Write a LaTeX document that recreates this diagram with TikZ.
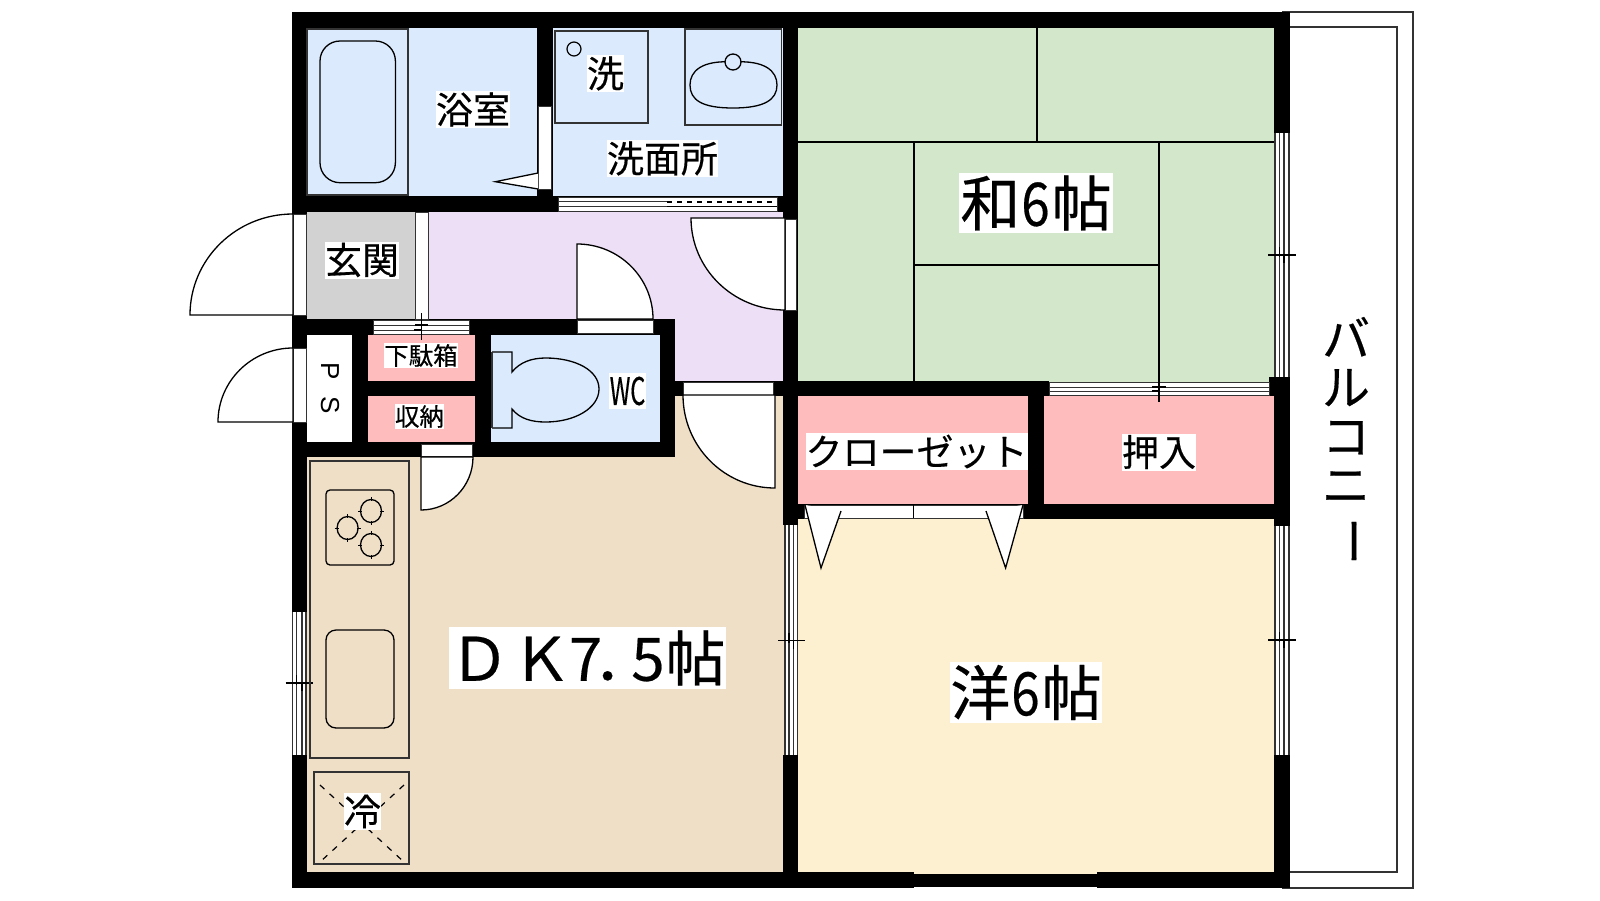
\documentclass[tikz,border=0pt]{standalone}
\usepackage{fontspec}
\newfontfamily\jp[FakeBold=0.35]{Noto Sans CJK JP}
\newfontfamily\lat{Liberation Sans}
\newcommand{\fs}[1]{\fontsize{#1}{#1}\selectfont}
\definecolor{cblue}{HTML}{DBEBFD}
\definecolor{cgreen}{HTML}{D3E8CB}
\definecolor{cpurple}{HTML}{EDDFF5}
\definecolor{ctan}{HTML}{EEDFC6}
\definecolor{ccream}{HTML}{FDF0D0}
\definecolor{cpink}{HTML}{FEBCBC}
\definecolor{cgray}{HTML}{D2D2D2}
\definecolor{cline}{HTML}{333333}
\tikzset{
  thin line/.style={line width=1.2pt,draw=black},
  fix line/.style={line width=1.2pt,draw=cline},
  opening/.style={line width=1pt,draw=cline,fill=white},
  lab/.style={fill=white,inner sep=0pt,outer sep=0pt,font=\jp,text=black},
}
% filled room / wall rectangle
\newcommand{\blk}[4]{\fill[black] (#1,#2) rectangle (#3,#4);}
\newcommand{\room}[5]{\fill[#1] (#2,#3) rectangle (#4,#5);}
% door: centre, free end of leaf, other end of arc
\newcommand{\doorleaf}[6]{\draw[thin line,line width=1.3pt,fill=white] (#3,#4) .. controls ({#3+.5523*(#5-#1)},{#4+.5523*(#6-#2)}) and ({#5+.5523*(#3-#1)},{#6+.5523*(#4-#2)}) .. (#5,#6) -- (#1,#2) -- cycle;}
% vertical window x1..x4 lines
\newcommand{\vwin}[7]{\fill[white] (#1,#5) rectangle (#4,#6);
  \foreach \q in {#1,#2,#3,#4}{\draw[line width=1.1pt,draw=cline] (\q,#5) -- (\q,#6);}
  \draw[thin line] ({#1-7},#7) -- ({#4+7},#7);
  \draw[thin line] (#2,{#7-8}) -- (#2,{#7+2});
  \draw[thin line] (#3,{#7}) -- (#3,{#7+8});}
\newcommand{\burner}[2]{\draw[line width=1.3pt] (#1,#2) ellipse [x radius=10.5,y radius=11.5];
  \draw[line width=1pt] ({#1-13},#2) -- ({#1-9},#2) ({#1+9},#2) -- ({#1+13},#2) (#1,{#2-14}) -- (#1,{#2-10}) (#1,{#2+10}) -- (#1,{#2+14});}
\begin{document}
\begin{tikzpicture}[x=1pt,y=-1pt]
\useasboundingbox (0,0) rectangle (1600,900);
\fill[white] (0,0) rectangle (1600,900);
% rooms
\room{cblue}{300}{24}{540}{200}
\room{cblue}{550}{24}{790}{200}
\room{cgreen}{790}{24}{1280}{385}
\room{cgray}{300}{208}{418}{325}
\room{cpurple}{425}{208}{790}{385}
\room{cblue}{485}{330}{665}{446}
\room{cpink}{360}{330}{480}{385}
\room{cpink}{360}{390}{480}{446}
\room{white}{300}{330}{356}{446}
\room{ctan}{300}{450}{790}{880}
\room{ctan}{665}{390}{790}{460}
\room{cpink}{790}{390}{1032}{508}
\room{cpink}{1040}{390}{1280}{508}
\room{ccream}{790}{515}{1280}{880}
% balcony
\draw[line width=1.2pt,draw=cline] (1282,12) -- (1413,12) -- (1413,888) -- (1282,888);
\draw[line width=1.2pt,draw=cline] (1290,27) -- (1397,27) -- (1397,872) -- (1290,872);
% tatami
\draw[fix line,draw=black] (1037,28) -- (1037,142);
\draw[fix line,draw=black] (797,142) -- (1274,142);
\draw[fix line,draw=black] (914,142) -- (914,381);
\draw[fix line,draw=black] (914,265) -- (1159,265);
\draw[fix line,draw=black] (1159,142) -- (1159,381);
% walls
\blk{291.5}{12}{1290}{28}
\blk{291.5}{12}{306.5}{612}
\blk{291.5}{755}{306.5}{888}
\blk{291.5}{872}{914}{888}
\blk{914}{874}{1097}{887}
\blk{1097}{872}{1290}{888}
\blk{1274}{12}{1290}{133}
\blk{1274}{755}{1290}{888}
\blk{1269}{377}{1290}{396}
\blk{1274}{377}{1290}{526}
\blk{291.5}{196}{797}{212}
\blk{537}{28}{553}{212}
\blk{783}{28}{797.5}{525}
\blk{783}{755}{797.5}{888}
\blk{291.5}{319}{675}{335}
\blk{352}{319}{368}{457}
\blk{475}{319}{491}{457}
\blk{660}{319}{675}{457}
\blk{368}{381}{475}{396}
\blk{291.5}{442}{675}{457}
\blk{675}{381}{1049}{396}
\blk{1028}{381}{1044}{519}
\blk{783}{504}{1290}{519}
% openings
\draw[opening] (538.5,106) rectangle (551.5,189);
\draw[opening] (558,197) rectangle (777,211);
\draw[line width=1pt,draw=cline] (558,201.5) -- (667,201.5) (558,206) -- (667,206);
\draw[line width=1.4pt,draw=black,dash pattern=on 5pt off 5pt] (667,202) -- (777,202);
\draw[line width=1.5pt,draw=black] (667,206.5) -- (777,206.5);
\draw[opening] (785,219) rectangle (796,310);
\draw[opening] (415.6,212) rectangle (428,319);
\draw[opening] (293,214) rectangle (306,315);
\draw[opening] (293,348) rectangle (306,422);
\draw[opening] (373.7,320) rectangle (469.7,334);
\draw[line width=1pt,draw=cline] (373.7,325) -- (469.7,325) (373.7,330) -- (469.7,330);
\draw[opening] (577,320) rectangle (653,333);
\draw[opening] (421,444) rectangle (472.5,456.5);
\draw[opening] (683,382) rectangle (773.7,395);
\draw[opening] (1049,382) rectangle (1269,395);
\draw[line width=1pt,draw=cline] (1049,387) -- (1269,387) (1049,391) -- (1269,391);
\draw[opening] (804,505) rectangle (1023,518);
\draw[thin line] (913.5,505) -- (913.5,518);
% plan ticks through sliding doors
\draw[thin line] (421.5,313) -- (421.5,340);
\draw[thin line] (415,325) -- (428,325) (414,330) -- (421,330);
\draw[thin line] (1159,381) -- (1159,402);
\draw[thin line] (1152,387) -- (1166,387) (1152,391) -- (1159,391);
% windows
\vwin{292.5}{296.5}{302}{306}{612}{755}{683}
\vwin{785}{789}{793.4}{797.5}{525}{755}{640.7}
\vwin{1275}{1279.5}{1284}{1289}{133}{377}{255}
\vwin{1275}{1279.5}{1284}{1289}{526}{755}{640}
% doors
\doorleaf{293}{315}{190}{315}{293}{214}
\doorleaf{293}{422}{218}{422}{293}{348}
\doorleaf{785}{218}{691}{218}{785}{310}
\doorleaf{577}{319}{577}{244}{653}{319}
\doorleaf{421}{457}{421}{510}{473}{457}
\doorleaf{775}{395}{775}{488}{683}{395}
\draw[thin line,line width=1.3pt,fill=white] (538,173) -- (495.4,181.7) -- (538,189);
\draw[thin line,line width=1.3pt,fill=white] (805,505) -- (821,568) -- (841,511);
\draw[thin line,line width=1.3pt,fill=white] (986,511) -- (1005.6,568) -- (1023,505);
% bath fixtures
\draw[fix line] (307,29) rectangle (408,195);
\draw[thin line,line width=1.3pt,rounded corners=20pt] (320,41) rectangle (395.4,182.7);
\draw[fix line] (555,31) rectangle (648,123);
\draw[thin line,line width=1.2pt] (574,49) circle [radius=7];
\draw[fix line] (685,29) rectangle (781.6,125);
\draw[thin line,line width=1.3pt] (733,62) .. controls (765,60) and (777,71) .. (777,85) .. controls (777,100) and (764,108) .. (733,108) .. controls (702,108) and (690,100) .. (690,85) .. controls (690,71) and (702,60) .. (733,62) -- cycle;
\draw[thin line,line width=1.3pt,fill=cblue] (733,62) circle [radius=8];
% toilet
\draw[thin line,line width=1.3pt] (492,352) -- (512,352) -- (512,372) .. controls (520,362) and (532,358) .. (545.6,358) .. controls (575,358) and (599,370) .. (599,389) .. controls (599,408) and (575,422) .. (545.6,422) .. controls (532,422) and (520,419) .. (512,409) -- (512,428) -- (492,428);
\draw[fix line] (492,352) -- (492,428);
% kitchen
\draw[fix line] (310,461) rectangle (409,758);
\draw[thin line,line width=1.3pt,rounded corners=4pt] (326,490) rectangle (394,565);
\burner{371}{511}
\burner{347.6}{528}
\burner{371}{545}
\draw[thin line,line width=1.3pt,rounded corners=10pt] (326,630) rectangle (394,728);
\draw[fix line] (314,772) rectangle (409,864);
\draw[thin line,line width=1.2pt,dash pattern=on 6pt off 7pt] (320,785) -- (404,862) (404,785) -- (320,862);
% labels
\node[lab,minimum width=74pt,minimum height=37pt] (bath) at (473,109.5) {\fs{37}浴室};
\node[lab,minimum width=37pt,minimum height=37pt] (wash) at (605.5,73.5) {\fs{37}洗};
\node[lab,minimum width=111pt,minimum height=37pt] (sen) at (662.5,158.5) {\fs{37}洗面所};
\node[lab,minimum width=74pt,minimum height=37pt] (gen) at (362,260) {\fs{37}玄関};
\node[lab,minimum width=74pt,minimum height=25pt] (geta) at (421,355.5) {\fs{24.5}下駄箱};
\node[lab,minimum width=49pt,minimum height=25pt] (shu) at (419.5,416.5) {\fs{24.5}収納};
\node[lab,minimum width=37pt,minimum height=36pt] (wc) at (627.5,391) {\fs{38}\scalebox{.62}[1]{WC}};
\node[font=\lat\fs{26},rotate=-90,inner sep=0pt] (ps) at (330,388) {P\hspace{17pt}S};
\node[lab,minimum width=221pt,minimum height=37pt] (clo) at (916.5,451.5) {\fs{37}クローゼット};
\node[lab,minimum width=74pt,minimum height=37pt] (osi) at (1159,452) {\fs{37}押入};
\node[lab,minimum width=154pt,minimum height=60pt] (wa) at (1036,203) {\fs{60}和\hspace{1pt}\scalebox{.85}[1]{6}\hspace{2pt}帖};
\node[lab,minimum width=150pt,minimum height=61pt] (yo) at (1026,692.5) {\fs{60}洋\hspace{1pt}\scalebox{.85}[1]{6}\hspace{2pt}帖};
\node[lab,minimum width=277pt,minimum height=62pt] (dk) at (587.5,658) {\fs{60}Ｄ\hspace{2pt}Ｋ\hspace{-2.5pt}7\hspace{-9pt}．\hspace{-22pt}5\hspace{1pt}帖};
\node[lab,minimum width=37pt,minimum height=37pt] (rei) at (362.5,811.5) {\fs{37}冷};
\node[font=\jp\fs{48},inner sep=0pt,align=center,text width=50pt,execute at begin node={\baselineskip=48.8pt}] (bal) at (1346,441) {バ\\ル\\コ\\ニ\\\rotatebox[origin=c]{-90}{ー}};
\end{tikzpicture}
\end{document}
